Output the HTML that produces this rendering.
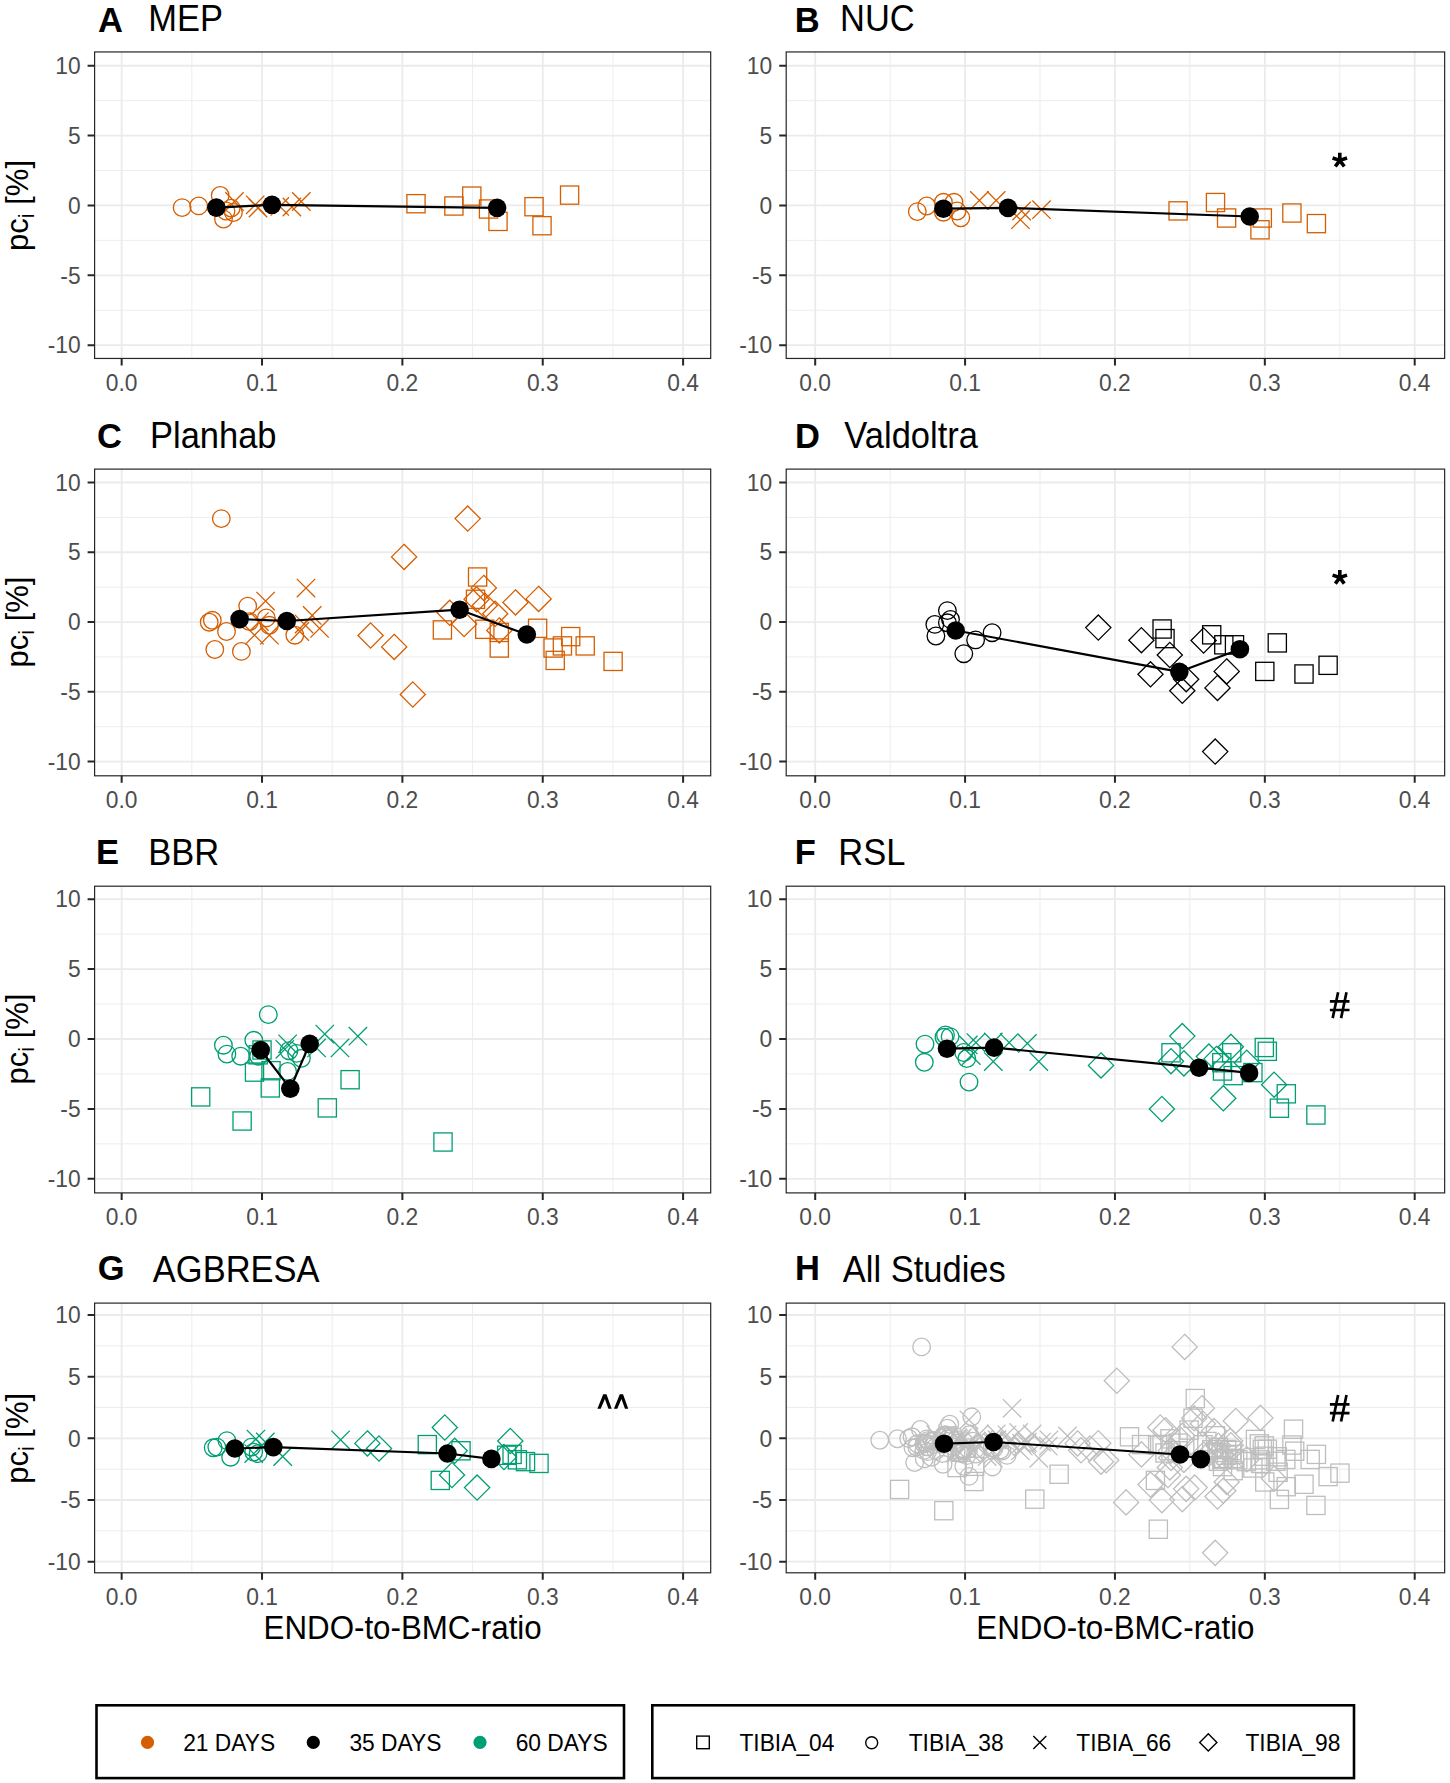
<!DOCTYPE html>
<html><head><meta charset="utf-8"><style>
html,body{margin:0;padding:0;background:#fff;}
svg{display:block;font-family:"Liberation Sans",sans-serif;}
</style></head><body>
<svg width="1450" height="1783" viewBox="0 0 1450 1783">
<rect width="1450" height="1783" fill="#fff"/>
<g><rect x="94.6" y="51.95" width="616.1" height="306.5" fill="#FFFFFF"/><line x1="191.84" y1="51.95" x2="191.84" y2="358.45" stroke="#EBEBEB" stroke-width="0.9"/><line x1="332.2" y1="51.95" x2="332.2" y2="358.45" stroke="#EBEBEB" stroke-width="0.9"/><line x1="472.56" y1="51.95" x2="472.56" y2="358.45" stroke="#EBEBEB" stroke-width="0.9"/><line x1="612.92" y1="51.95" x2="612.92" y2="358.45" stroke="#EBEBEB" stroke-width="0.9"/><line x1="94.6" y1="310.23" x2="710.7" y2="310.23" stroke="#EBEBEB" stroke-width="0.9"/><line x1="94.6" y1="240.38" x2="710.7" y2="240.38" stroke="#EBEBEB" stroke-width="0.9"/><line x1="94.6" y1="170.52" x2="710.7" y2="170.52" stroke="#EBEBEB" stroke-width="0.9"/><line x1="94.6" y1="100.67" x2="710.7" y2="100.67" stroke="#EBEBEB" stroke-width="0.9"/><line x1="121.66" y1="51.95" x2="121.66" y2="358.45" stroke="#EBEBEB" stroke-width="1.8"/><line x1="262.02" y1="51.95" x2="262.02" y2="358.45" stroke="#EBEBEB" stroke-width="1.8"/><line x1="402.38" y1="51.95" x2="402.38" y2="358.45" stroke="#EBEBEB" stroke-width="1.8"/><line x1="542.74" y1="51.95" x2="542.74" y2="358.45" stroke="#EBEBEB" stroke-width="1.8"/><line x1="683.1" y1="51.95" x2="683.1" y2="358.45" stroke="#EBEBEB" stroke-width="1.8"/><line x1="94.6" y1="345.15" x2="710.7" y2="345.15" stroke="#EBEBEB" stroke-width="1.8"/><line x1="94.6" y1="275.3" x2="710.7" y2="275.3" stroke="#EBEBEB" stroke-width="1.8"/><line x1="94.6" y1="205.45" x2="710.7" y2="205.45" stroke="#EBEBEB" stroke-width="1.8"/><line x1="94.6" y1="135.6" x2="710.7" y2="135.6" stroke="#EBEBEB" stroke-width="1.8"/><line x1="94.6" y1="65.75" x2="710.7" y2="65.75" stroke="#EBEBEB" stroke-width="1.8"/><g fill="none" stroke="#D55E00" stroke-width="1.3"><rect x="406.9" y="194.6" width="18.2" height="18.2"/><rect x="444.8" y="196.9" width="18.2" height="18.2"/><rect x="462.7" y="187" width="18.2" height="18.2"/><rect x="479.4" y="199.9" width="18.2" height="18.2"/><rect x="488.9" y="212.3" width="18.2" height="18.2"/><rect x="524.9" y="197.6" width="18.2" height="18.2"/><rect x="532.9" y="216.6" width="18.2" height="18.2"/><rect x="560.5" y="186" width="18.2" height="18.2"/><circle cx="182.1" cy="207.6" r="8.8"/><circle cx="198.7" cy="205.9" r="8.8"/><circle cx="220.2" cy="195.4" r="8.8"/><circle cx="223.5" cy="219.1" r="8.8"/><circle cx="231.2" cy="208.1" r="8.8"/><circle cx="233.4" cy="212.5" r="8.8"/><circle cx="226" cy="211" r="8.8"/><path d="M246 195.6L264.4 214M246 214L264.4 195.6"/><path d="M248.8 198.8L267.2 217.2M248.8 217.2L267.2 198.8"/><path d="M270.6 197.2L289 215.6M270.6 215.6L289 197.2"/><path d="M282.7 197.8L301.1 216.2M282.7 216.2L301.1 197.8"/><path d="M292.1 192.3L310.5 210.7M292.1 210.7L310.5 192.3"/><path d="M225.3 192.3L243.7 210.7M225.3 210.7L243.7 192.3"/></g><polyline points="216.3,207.6 272,204.8 497.1,207.8" fill="none" stroke="#000" stroke-width="2.2" stroke-linejoin="round"/><circle cx="216.3" cy="207.6" r="9.3" fill="#000"/><circle cx="272" cy="204.8" r="9.3" fill="#000"/><circle cx="497.1" cy="207.8" r="9.3" fill="#000"/><rect x="94.6" y="51.95" width="616.1" height="306.5" fill="none" stroke="#262626" stroke-width="1.2"/><path d="M121.66 358.45V365.45M262.02 358.45V365.45M402.38 358.45V365.45M542.74 358.45V365.45M683.1 358.45V365.45M94.6 345.15H87.6M94.6 275.3H87.6M94.6 205.45H87.6M94.6 135.6H87.6M94.6 65.75H87.6" stroke="#262626" stroke-width="2.0" fill="none"/><text transform="translate(121.66,390.85) scale(1,1.04)" font-size="22.8" fill="#4D4D4D" text-anchor="middle">0.0</text><text transform="translate(262.02,390.85) scale(1,1.04)" font-size="22.8" fill="#4D4D4D" text-anchor="middle">0.1</text><text transform="translate(402.38,390.85) scale(1,1.04)" font-size="22.8" fill="#4D4D4D" text-anchor="middle">0.2</text><text transform="translate(542.74,390.85) scale(1,1.04)" font-size="22.8" fill="#4D4D4D" text-anchor="middle">0.3</text><text transform="translate(683.1,390.85) scale(1,1.04)" font-size="22.8" fill="#4D4D4D" text-anchor="middle">0.4</text><text transform="translate(80.6,353.35) scale(1,1.04)" font-size="22.8" fill="#4D4D4D" text-anchor="end">-10</text><text transform="translate(80.6,283.5) scale(1,1.04)" font-size="22.8" fill="#4D4D4D" text-anchor="end">-5</text><text transform="translate(80.6,213.65) scale(1,1.04)" font-size="22.8" fill="#4D4D4D" text-anchor="end">0</text><text transform="translate(80.6,143.8) scale(1,1.04)" font-size="22.8" fill="#4D4D4D" text-anchor="end">5</text><text transform="translate(80.6,73.95) scale(1,1.04)" font-size="22.8" fill="#4D4D4D" text-anchor="end">10</text></g><text transform="translate(97.94,32) scale(1,1.03)" font-size="34.5" fill="#000" text-anchor="start" font-weight="bold">A</text><text transform="translate(148.17,31.2) scale(1,1.045)" font-size="34.5" fill="#000" text-anchor="start">MEP</text><g><rect x="786.2" y="51.95" width="658.45" height="306.5" fill="#FFFFFF"/><line x1="890.14" y1="51.95" x2="890.14" y2="358.45" stroke="#EBEBEB" stroke-width="0.9"/><line x1="1040.01" y1="51.95" x2="1040.01" y2="358.45" stroke="#EBEBEB" stroke-width="0.9"/><line x1="1189.89" y1="51.95" x2="1189.89" y2="358.45" stroke="#EBEBEB" stroke-width="0.9"/><line x1="1339.76" y1="51.95" x2="1339.76" y2="358.45" stroke="#EBEBEB" stroke-width="0.9"/><line x1="786.2" y1="310.23" x2="1444.65" y2="310.23" stroke="#EBEBEB" stroke-width="0.9"/><line x1="786.2" y1="240.38" x2="1444.65" y2="240.38" stroke="#EBEBEB" stroke-width="0.9"/><line x1="786.2" y1="170.52" x2="1444.65" y2="170.52" stroke="#EBEBEB" stroke-width="0.9"/><line x1="786.2" y1="100.67" x2="1444.65" y2="100.67" stroke="#EBEBEB" stroke-width="0.9"/><line x1="815.2" y1="51.95" x2="815.2" y2="358.45" stroke="#EBEBEB" stroke-width="1.8"/><line x1="965.08" y1="51.95" x2="965.08" y2="358.45" stroke="#EBEBEB" stroke-width="1.8"/><line x1="1114.95" y1="51.95" x2="1114.95" y2="358.45" stroke="#EBEBEB" stroke-width="1.8"/><line x1="1264.83" y1="51.95" x2="1264.83" y2="358.45" stroke="#EBEBEB" stroke-width="1.8"/><line x1="1414.7" y1="51.95" x2="1414.7" y2="358.45" stroke="#EBEBEB" stroke-width="1.8"/><line x1="786.2" y1="345.15" x2="1444.65" y2="345.15" stroke="#EBEBEB" stroke-width="1.8"/><line x1="786.2" y1="275.3" x2="1444.65" y2="275.3" stroke="#EBEBEB" stroke-width="1.8"/><line x1="786.2" y1="205.45" x2="1444.65" y2="205.45" stroke="#EBEBEB" stroke-width="1.8"/><line x1="786.2" y1="135.6" x2="1444.65" y2="135.6" stroke="#EBEBEB" stroke-width="1.8"/><line x1="786.2" y1="65.75" x2="1444.65" y2="65.75" stroke="#EBEBEB" stroke-width="1.8"/><g fill="none" stroke="#D55E00" stroke-width="1.3"><rect x="1169" y="201.8" width="18.2" height="18.2"/><rect x="1206.4" y="193.4" width="18.2" height="18.2"/><rect x="1217.5" y="208.9" width="18.2" height="18.2"/><rect x="1253.2" y="208.9" width="18.2" height="18.2"/><rect x="1250.9" y="220.7" width="18.2" height="18.2"/><rect x="1282.8" y="203.9" width="18.2" height="18.2"/><rect x="1307.3" y="214.5" width="18.2" height="18.2"/><circle cx="917.3" cy="211.6" r="8.8"/><circle cx="926.7" cy="206" r="8.8"/><circle cx="943.4" cy="202.3" r="8.8"/><circle cx="954" cy="202.3" r="8.8"/><circle cx="957.1" cy="211" r="8.8"/><circle cx="943.4" cy="212.2" r="8.8"/><circle cx="960.8" cy="217.8" r="8.8"/><path d="M970.2 191.2L988.6 209.6M970.2 209.6L988.6 191.2"/><path d="M987 191.2L1005.4 209.6M987 209.6L1005.4 191.2"/><path d="M1011.2 210.5L1029.6 228.9M1011.2 228.9L1029.6 210.5"/><path d="M1012.4 201.8L1030.8 220.2M1012.4 220.2L1030.8 201.8"/><path d="M1032.3 200.5L1050.7 218.9M1032.3 218.9L1050.7 200.5"/></g><polyline points="943.4,208.7 1008,207.9 1249.7,216.5" fill="none" stroke="#000" stroke-width="2.2" stroke-linejoin="round"/><circle cx="943.4" cy="208.7" r="9.3" fill="#000"/><circle cx="1008" cy="207.9" r="9.3" fill="#000"/><circle cx="1249.7" cy="216.5" r="9.3" fill="#000"/><path d="M1339.8 160.35L1339.8 152.75M1339.8 160.35L1347.03 158M1339.8 160.35L1344.27 166.5M1339.8 160.35L1335.33 166.5M1339.8 160.35L1332.57 158" stroke="#000" stroke-width="3.6" fill="none"/><rect x="786.2" y="51.95" width="658.45" height="306.5" fill="none" stroke="#262626" stroke-width="1.2"/><path d="M815.2 358.45V365.45M965.08 358.45V365.45M1114.95 358.45V365.45M1264.83 358.45V365.45M1414.7 358.45V365.45M786.2 345.15H779.2M786.2 275.3H779.2M786.2 205.45H779.2M786.2 135.6H779.2M786.2 65.75H779.2" stroke="#262626" stroke-width="2.0" fill="none"/><text transform="translate(815.2,390.85) scale(1,1.04)" font-size="22.8" fill="#4D4D4D" text-anchor="middle">0.0</text><text transform="translate(965.08,390.85) scale(1,1.04)" font-size="22.8" fill="#4D4D4D" text-anchor="middle">0.1</text><text transform="translate(1114.95,390.85) scale(1,1.04)" font-size="22.8" fill="#4D4D4D" text-anchor="middle">0.2</text><text transform="translate(1264.83,390.85) scale(1,1.04)" font-size="22.8" fill="#4D4D4D" text-anchor="middle">0.3</text><text transform="translate(1414.7,390.85) scale(1,1.04)" font-size="22.8" fill="#4D4D4D" text-anchor="middle">0.4</text><text transform="translate(772.2,353.35) scale(1,1.04)" font-size="22.8" fill="#4D4D4D" text-anchor="end">-10</text><text transform="translate(772.2,283.5) scale(1,1.04)" font-size="22.8" fill="#4D4D4D" text-anchor="end">-5</text><text transform="translate(772.2,213.65) scale(1,1.04)" font-size="22.8" fill="#4D4D4D" text-anchor="end">0</text><text transform="translate(772.2,143.8) scale(1,1.04)" font-size="22.8" fill="#4D4D4D" text-anchor="end">5</text><text transform="translate(772.2,73.95) scale(1,1.04)" font-size="22.8" fill="#4D4D4D" text-anchor="end">10</text></g><text transform="translate(794.79,32) scale(1,1.03)" font-size="34.5" fill="#000" text-anchor="start" font-weight="bold">B</text><text transform="translate(840.07,31.2) scale(1,1.045)" font-size="34.5" fill="#000" text-anchor="start">NUC</text><g><rect x="94.6" y="469.1" width="616.1" height="306.7" fill="#FFFFFF"/><line x1="191.84" y1="469.1" x2="191.84" y2="775.8" stroke="#EBEBEB" stroke-width="0.9"/><line x1="332.2" y1="469.1" x2="332.2" y2="775.8" stroke="#EBEBEB" stroke-width="0.9"/><line x1="472.56" y1="469.1" x2="472.56" y2="775.8" stroke="#EBEBEB" stroke-width="0.9"/><line x1="612.92" y1="469.1" x2="612.92" y2="775.8" stroke="#EBEBEB" stroke-width="0.9"/><line x1="94.6" y1="726.71" x2="710.7" y2="726.71" stroke="#EBEBEB" stroke-width="0.9"/><line x1="94.6" y1="656.94" x2="710.7" y2="656.94" stroke="#EBEBEB" stroke-width="0.9"/><line x1="94.6" y1="587.16" x2="710.7" y2="587.16" stroke="#EBEBEB" stroke-width="0.9"/><line x1="94.6" y1="517.39" x2="710.7" y2="517.39" stroke="#EBEBEB" stroke-width="0.9"/><line x1="121.66" y1="469.1" x2="121.66" y2="775.8" stroke="#EBEBEB" stroke-width="1.8"/><line x1="262.02" y1="469.1" x2="262.02" y2="775.8" stroke="#EBEBEB" stroke-width="1.8"/><line x1="402.38" y1="469.1" x2="402.38" y2="775.8" stroke="#EBEBEB" stroke-width="1.8"/><line x1="542.74" y1="469.1" x2="542.74" y2="775.8" stroke="#EBEBEB" stroke-width="1.8"/><line x1="683.1" y1="469.1" x2="683.1" y2="775.8" stroke="#EBEBEB" stroke-width="1.8"/><line x1="94.6" y1="761.6" x2="710.7" y2="761.6" stroke="#EBEBEB" stroke-width="1.8"/><line x1="94.6" y1="691.82" x2="710.7" y2="691.82" stroke="#EBEBEB" stroke-width="1.8"/><line x1="94.6" y1="622.05" x2="710.7" y2="622.05" stroke="#EBEBEB" stroke-width="1.8"/><line x1="94.6" y1="552.27" x2="710.7" y2="552.27" stroke="#EBEBEB" stroke-width="1.8"/><line x1="94.6" y1="482.5" x2="710.7" y2="482.5" stroke="#EBEBEB" stroke-width="1.8"/><g fill="none" stroke="#D55E00" stroke-width="1.3"><rect x="468.5" y="567.9" width="18.2" height="18.2"/><rect x="466.4" y="590.2" width="18.2" height="18.2"/><rect x="433.3" y="620.8" width="18.2" height="18.2"/><rect x="475.7" y="620.2" width="18.2" height="18.2"/><rect x="490.2" y="623.3" width="18.2" height="18.2"/><rect x="490.2" y="638.9" width="18.2" height="18.2"/><rect x="528.5" y="619.2" width="18.2" height="18.2"/><rect x="544" y="638.9" width="18.2" height="18.2"/><rect x="553.3" y="636.8" width="18.2" height="18.2"/><rect x="561.6" y="627.5" width="18.2" height="18.2"/><rect x="546.1" y="651.3" width="18.2" height="18.2"/><rect x="576.1" y="636.8" width="18.2" height="18.2"/><rect x="604" y="652.3" width="18.2" height="18.2"/><circle cx="221.3" cy="518.6" r="8.8"/><circle cx="209.2" cy="622.2" r="8.8"/><circle cx="212.3" cy="620.3" r="8.8"/><circle cx="226.5" cy="631.5" r="8.8"/><circle cx="214.8" cy="649.5" r="8.8"/><circle cx="241.4" cy="651.4" r="8.8"/><circle cx="247.7" cy="606.1" r="8.8"/><circle cx="249.5" cy="621.6" r="8.8"/><circle cx="266.3" cy="617.9" r="8.8"/><circle cx="269.4" cy="625.3" r="8.8"/><circle cx="294.8" cy="635.2" r="8.8"/><path d="M467.7 506L480.3 518.6L467.7 531.2L455.1 518.6Z"/><path d="M404.1 544.3L416.7 556.9L404.1 569.5L391.5 556.9Z"/><path d="M370.6 622.9L383.2 635.5L370.6 648.1L358 635.5Z"/><path d="M394.2 634.3L406.8 646.9L394.2 659.5L381.6 646.9Z"/><path d="M412.8 681.9L425.4 694.5L412.8 707.1L400.2 694.5Z"/><path d="M483.8 575.3L496.4 587.9L483.8 600.5L471.2 587.9Z"/><path d="M476.6 586.7L489.2 599.3L476.6 611.9L464 599.3Z"/><path d="M484.8 592.9L497.4 605.5L484.8 618.1L472.2 605.5Z"/><path d="M495.2 601.2L507.8 613.8L495.2 626.4L482.6 613.8Z"/><path d="M515.5 589.8L528.1 602.4L515.5 615L502.9 602.4Z"/><path d="M538.6 586.3L551.2 598.9L538.6 611.5L526 598.9Z"/><path d="M449.7 600.2L462.3 612.8L449.7 625.4L437.1 612.8Z"/><path d="M464.1 611.5L476.7 624.1L464.1 636.7L451.5 624.1Z"/><path d="M499.3 617.8L511.9 630.4L499.3 643L486.7 630.4Z"/><path d="M256.4 591.9L274.8 610.3M256.4 610.3L274.8 591.9"/><path d="M296.8 578.9L315.2 597.3M296.8 597.3L315.2 578.9"/><path d="M303 606.2L321.4 624.6M303 624.6L321.4 606.2"/><path d="M310.4 619.2L328.8 637.6M310.4 637.6L328.8 619.2"/><path d="M245.3 626L263.7 644.4M245.3 644.4L263.7 626"/><path d="M260.2 626L278.6 644.4M260.2 644.4L278.6 626"/><path d="M290.6 622.3L309 640.7M290.6 640.7L309 622.3"/><path d="M294.9 614.9L313.3 633.3M294.9 633.3L313.3 614.9"/><path d="M250.2 612.4L268.6 630.8M250.2 630.8L268.6 612.4"/></g><polyline points="239.6,619.1 286.8,621 459.6,609.7 526.8,634.5" fill="none" stroke="#000" stroke-width="2.2" stroke-linejoin="round"/><circle cx="239.6" cy="619.1" r="9.3" fill="#000"/><circle cx="286.8" cy="621" r="9.3" fill="#000"/><circle cx="459.6" cy="609.7" r="9.3" fill="#000"/><circle cx="526.8" cy="634.5" r="9.3" fill="#000"/><rect x="94.6" y="469.1" width="616.1" height="306.7" fill="none" stroke="#262626" stroke-width="1.2"/><path d="M121.66 775.8V782.8M262.02 775.8V782.8M402.38 775.8V782.8M542.74 775.8V782.8M683.1 775.8V782.8M94.6 761.6H87.6M94.6 691.82H87.6M94.6 622.05H87.6M94.6 552.27H87.6M94.6 482.5H87.6" stroke="#262626" stroke-width="2.0" fill="none"/><text transform="translate(121.66,808.2) scale(1,1.04)" font-size="22.8" fill="#4D4D4D" text-anchor="middle">0.0</text><text transform="translate(262.02,808.2) scale(1,1.04)" font-size="22.8" fill="#4D4D4D" text-anchor="middle">0.1</text><text transform="translate(402.38,808.2) scale(1,1.04)" font-size="22.8" fill="#4D4D4D" text-anchor="middle">0.2</text><text transform="translate(542.74,808.2) scale(1,1.04)" font-size="22.8" fill="#4D4D4D" text-anchor="middle">0.3</text><text transform="translate(683.1,808.2) scale(1,1.04)" font-size="22.8" fill="#4D4D4D" text-anchor="middle">0.4</text><text transform="translate(80.6,769.8) scale(1,1.04)" font-size="22.8" fill="#4D4D4D" text-anchor="end">-10</text><text transform="translate(80.6,700.02) scale(1,1.04)" font-size="22.8" fill="#4D4D4D" text-anchor="end">-5</text><text transform="translate(80.6,630.25) scale(1,1.04)" font-size="22.8" fill="#4D4D4D" text-anchor="end">0</text><text transform="translate(80.6,560.48) scale(1,1.04)" font-size="22.8" fill="#4D4D4D" text-anchor="end">5</text><text transform="translate(80.6,490.7) scale(1,1.04)" font-size="22.8" fill="#4D4D4D" text-anchor="end">10</text></g><text transform="translate(96.88,448.4) scale(1,1.03)" font-size="34.5" fill="#000" text-anchor="start" font-weight="bold">C</text><text transform="translate(149.97,448.1) scale(1,1.045)" font-size="34.5" fill="#000" text-anchor="start">Planhab</text><g><rect x="786.2" y="469.1" width="658.45" height="306.7" fill="#FFFFFF"/><line x1="890.14" y1="469.1" x2="890.14" y2="775.8" stroke="#EBEBEB" stroke-width="0.9"/><line x1="1040.01" y1="469.1" x2="1040.01" y2="775.8" stroke="#EBEBEB" stroke-width="0.9"/><line x1="1189.89" y1="469.1" x2="1189.89" y2="775.8" stroke="#EBEBEB" stroke-width="0.9"/><line x1="1339.76" y1="469.1" x2="1339.76" y2="775.8" stroke="#EBEBEB" stroke-width="0.9"/><line x1="786.2" y1="726.71" x2="1444.65" y2="726.71" stroke="#EBEBEB" stroke-width="0.9"/><line x1="786.2" y1="656.94" x2="1444.65" y2="656.94" stroke="#EBEBEB" stroke-width="0.9"/><line x1="786.2" y1="587.16" x2="1444.65" y2="587.16" stroke="#EBEBEB" stroke-width="0.9"/><line x1="786.2" y1="517.39" x2="1444.65" y2="517.39" stroke="#EBEBEB" stroke-width="0.9"/><line x1="815.2" y1="469.1" x2="815.2" y2="775.8" stroke="#EBEBEB" stroke-width="1.8"/><line x1="965.08" y1="469.1" x2="965.08" y2="775.8" stroke="#EBEBEB" stroke-width="1.8"/><line x1="1114.95" y1="469.1" x2="1114.95" y2="775.8" stroke="#EBEBEB" stroke-width="1.8"/><line x1="1264.83" y1="469.1" x2="1264.83" y2="775.8" stroke="#EBEBEB" stroke-width="1.8"/><line x1="1414.7" y1="469.1" x2="1414.7" y2="775.8" stroke="#EBEBEB" stroke-width="1.8"/><line x1="786.2" y1="761.6" x2="1444.65" y2="761.6" stroke="#EBEBEB" stroke-width="1.8"/><line x1="786.2" y1="691.82" x2="1444.65" y2="691.82" stroke="#EBEBEB" stroke-width="1.8"/><line x1="786.2" y1="622.05" x2="1444.65" y2="622.05" stroke="#EBEBEB" stroke-width="1.8"/><line x1="786.2" y1="552.27" x2="1444.65" y2="552.27" stroke="#EBEBEB" stroke-width="1.8"/><line x1="786.2" y1="482.5" x2="1444.65" y2="482.5" stroke="#EBEBEB" stroke-width="1.8"/><g fill="none" stroke="#000000" stroke-width="1.3"><rect x="1153" y="619.9" width="18.2" height="18.2"/><rect x="1155.9" y="629.5" width="18.2" height="18.2"/><rect x="1202.6" y="625.7" width="18.2" height="18.2"/><rect x="1214.7" y="635.7" width="18.2" height="18.2"/><rect x="1225.4" y="635.7" width="18.2" height="18.2"/><rect x="1268.2" y="633.8" width="18.2" height="18.2"/><rect x="1255.7" y="662.3" width="18.2" height="18.2"/><rect x="1294.9" y="664.9" width="18.2" height="18.2"/><rect x="1319" y="656.2" width="18.2" height="18.2"/><circle cx="947.4" cy="610.6" r="8.8"/><circle cx="950.5" cy="619.4" r="8.8"/><circle cx="934.8" cy="624.4" r="8.8"/><circle cx="935.9" cy="636" r="8.8"/><circle cx="947.4" cy="622.8" r="8.8"/><circle cx="963.8" cy="653.7" r="8.8"/><circle cx="975.6" cy="639.9" r="8.8"/><circle cx="992.1" cy="632.7" r="8.8"/><path d="M1098.3 615L1110.9 627.6L1098.3 640.2L1085.7 627.6Z"/><path d="M1141.4 627.6L1154 640.2L1141.4 652.8L1128.8 640.2Z"/><path d="M1169.8 642.4L1182.4 655L1169.8 667.6L1157.2 655Z"/><path d="M1150.5 661.7L1163.1 674.3L1150.5 686.9L1137.9 674.3Z"/><path d="M1182.3 678.2L1194.9 690.8L1182.3 703.4L1169.7 690.8Z"/><path d="M1186.2 666.6L1198.8 679.2L1186.2 691.8L1173.6 679.2Z"/><path d="M1203.6 627.9L1216.2 640.5L1203.6 653.1L1191 640.5Z"/><path d="M1226.7 658.8L1239.3 671.4L1226.7 684L1214.1 671.4Z"/><path d="M1217.5 675.3L1230.1 687.9L1217.5 700.5L1204.9 687.9Z"/><path d="M1215.2 739L1227.8 751.6L1215.2 764.2L1202.6 751.6Z"/></g><polyline points="955.7,630.5 1179.4,671.8 1239.9,649.2" fill="none" stroke="#000" stroke-width="2.2" stroke-linejoin="round"/><circle cx="955.7" cy="630.5" r="9.3" fill="#000"/><circle cx="1179.4" cy="671.8" r="9.3" fill="#000"/><circle cx="1239.9" cy="649.2" r="9.3" fill="#000"/><path d="M1339.8 577.5L1339.8 569.9M1339.8 577.5L1347.03 575.15M1339.8 577.5L1344.27 583.65M1339.8 577.5L1335.33 583.65M1339.8 577.5L1332.57 575.15" stroke="#000" stroke-width="3.6" fill="none"/><rect x="786.2" y="469.1" width="658.45" height="306.7" fill="none" stroke="#262626" stroke-width="1.2"/><path d="M815.2 775.8V782.8M965.08 775.8V782.8M1114.95 775.8V782.8M1264.83 775.8V782.8M1414.7 775.8V782.8M786.2 761.6H779.2M786.2 691.82H779.2M786.2 622.05H779.2M786.2 552.27H779.2M786.2 482.5H779.2" stroke="#262626" stroke-width="2.0" fill="none"/><text transform="translate(815.2,808.2) scale(1,1.04)" font-size="22.8" fill="#4D4D4D" text-anchor="middle">0.0</text><text transform="translate(965.08,808.2) scale(1,1.04)" font-size="22.8" fill="#4D4D4D" text-anchor="middle">0.1</text><text transform="translate(1114.95,808.2) scale(1,1.04)" font-size="22.8" fill="#4D4D4D" text-anchor="middle">0.2</text><text transform="translate(1264.83,808.2) scale(1,1.04)" font-size="22.8" fill="#4D4D4D" text-anchor="middle">0.3</text><text transform="translate(1414.7,808.2) scale(1,1.04)" font-size="22.8" fill="#4D4D4D" text-anchor="middle">0.4</text><text transform="translate(772.2,769.8) scale(1,1.04)" font-size="22.8" fill="#4D4D4D" text-anchor="end">-10</text><text transform="translate(772.2,700.02) scale(1,1.04)" font-size="22.8" fill="#4D4D4D" text-anchor="end">-5</text><text transform="translate(772.2,630.25) scale(1,1.04)" font-size="22.8" fill="#4D4D4D" text-anchor="end">0</text><text transform="translate(772.2,560.48) scale(1,1.04)" font-size="22.8" fill="#4D4D4D" text-anchor="end">5</text><text transform="translate(772.2,490.7) scale(1,1.04)" font-size="22.8" fill="#4D4D4D" text-anchor="end">10</text></g><text transform="translate(795.09,448.4) scale(1,1.03)" font-size="34.5" fill="#000" text-anchor="start" font-weight="bold">D</text><text transform="translate(844.35,448.1) scale(1,1.045)" font-size="34.5" fill="#000" text-anchor="start">Valdoltra</text><g><rect x="94.6" y="886.2" width="616.1" height="306.7" fill="#FFFFFF"/><line x1="191.84" y1="886.2" x2="191.84" y2="1192.9" stroke="#EBEBEB" stroke-width="0.9"/><line x1="332.2" y1="886.2" x2="332.2" y2="1192.9" stroke="#EBEBEB" stroke-width="0.9"/><line x1="472.56" y1="886.2" x2="472.56" y2="1192.9" stroke="#EBEBEB" stroke-width="0.9"/><line x1="612.92" y1="886.2" x2="612.92" y2="1192.9" stroke="#EBEBEB" stroke-width="0.9"/><line x1="94.6" y1="1143.85" x2="710.7" y2="1143.85" stroke="#EBEBEB" stroke-width="0.9"/><line x1="94.6" y1="1073.95" x2="710.7" y2="1073.95" stroke="#EBEBEB" stroke-width="0.9"/><line x1="94.6" y1="1004.05" x2="710.7" y2="1004.05" stroke="#EBEBEB" stroke-width="0.9"/><line x1="94.6" y1="934.15" x2="710.7" y2="934.15" stroke="#EBEBEB" stroke-width="0.9"/><line x1="121.66" y1="886.2" x2="121.66" y2="1192.9" stroke="#EBEBEB" stroke-width="1.8"/><line x1="262.02" y1="886.2" x2="262.02" y2="1192.9" stroke="#EBEBEB" stroke-width="1.8"/><line x1="402.38" y1="886.2" x2="402.38" y2="1192.9" stroke="#EBEBEB" stroke-width="1.8"/><line x1="542.74" y1="886.2" x2="542.74" y2="1192.9" stroke="#EBEBEB" stroke-width="1.8"/><line x1="683.1" y1="886.2" x2="683.1" y2="1192.9" stroke="#EBEBEB" stroke-width="1.8"/><line x1="94.6" y1="1178.8" x2="710.7" y2="1178.8" stroke="#EBEBEB" stroke-width="1.8"/><line x1="94.6" y1="1108.9" x2="710.7" y2="1108.9" stroke="#EBEBEB" stroke-width="1.8"/><line x1="94.6" y1="1039" x2="710.7" y2="1039" stroke="#EBEBEB" stroke-width="1.8"/><line x1="94.6" y1="969.1" x2="710.7" y2="969.1" stroke="#EBEBEB" stroke-width="1.8"/><line x1="94.6" y1="899.2" x2="710.7" y2="899.2" stroke="#EBEBEB" stroke-width="1.8"/><g fill="none" stroke="#009E73" stroke-width="1.3"><rect x="191.6" y="1087.8" width="18.2" height="18.2"/><rect x="233" y="1111.9" width="18.2" height="18.2"/><rect x="245.4" y="1063" width="18.2" height="18.2"/><rect x="249.1" y="1045.7" width="18.2" height="18.2"/><rect x="261.2" y="1078.8" width="18.2" height="18.2"/><rect x="318.2" y="1098.8" width="18.2" height="18.2"/><rect x="341" y="1070.6" width="18.2" height="18.2"/><rect x="261.9" y="1061.6" width="18.2" height="18.2"/><rect x="252.9" y="1040.9" width="18.2" height="18.2"/><rect x="433.9" y="1132.9" width="18.2" height="18.2"/><circle cx="268.3" cy="1014.6" r="8.8"/><circle cx="223.4" cy="1045.2" r="8.8"/><circle cx="226.9" cy="1054.1" r="8.8"/><circle cx="240.7" cy="1056.2" r="8.8"/><circle cx="253.8" cy="1040.3" r="8.8"/><circle cx="258.6" cy="1056.2" r="8.8"/><circle cx="287.6" cy="1071.4" r="8.8"/><circle cx="296.6" cy="1053.4" r="8.8"/><circle cx="301.4" cy="1058.3" r="8.8"/><circle cx="289" cy="1050.7" r="8.8"/><path d="M278.4 1034.6L296.8 1053M278.4 1053L296.8 1034.6"/><path d="M275.6 1040.1L294 1058.5M275.6 1058.5L294 1040.1"/><path d="M315.6 1024.9L334 1043.3M315.6 1043.3L334 1024.9"/><path d="M330.8 1038.7L349.2 1057.1M330.8 1057.1L349.2 1038.7"/><path d="M348.7 1027L367.1 1045.4M348.7 1045.4L367.1 1027"/><path d="M307.4 1038.7L325.8 1057.1M307.4 1057.1L325.8 1038.7"/></g><polyline points="260.7,1050 290.3,1088.6 309.7,1043.8" fill="none" stroke="#000" stroke-width="2.2" stroke-linejoin="round"/><circle cx="260.7" cy="1050" r="9.3" fill="#000"/><circle cx="290.3" cy="1088.6" r="9.3" fill="#000"/><circle cx="309.7" cy="1043.8" r="9.3" fill="#000"/><rect x="94.6" y="886.2" width="616.1" height="306.7" fill="none" stroke="#262626" stroke-width="1.2"/><path d="M121.66 1192.9V1199.9M262.02 1192.9V1199.9M402.38 1192.9V1199.9M542.74 1192.9V1199.9M683.1 1192.9V1199.9M94.6 1178.8H87.6M94.6 1108.9H87.6M94.6 1039H87.6M94.6 969.1H87.6M94.6 899.2H87.6" stroke="#262626" stroke-width="2.0" fill="none"/><text transform="translate(121.66,1225.3) scale(1,1.04)" font-size="22.8" fill="#4D4D4D" text-anchor="middle">0.0</text><text transform="translate(262.02,1225.3) scale(1,1.04)" font-size="22.8" fill="#4D4D4D" text-anchor="middle">0.1</text><text transform="translate(402.38,1225.3) scale(1,1.04)" font-size="22.8" fill="#4D4D4D" text-anchor="middle">0.2</text><text transform="translate(542.74,1225.3) scale(1,1.04)" font-size="22.8" fill="#4D4D4D" text-anchor="middle">0.3</text><text transform="translate(683.1,1225.3) scale(1,1.04)" font-size="22.8" fill="#4D4D4D" text-anchor="middle">0.4</text><text transform="translate(80.6,1187) scale(1,1.04)" font-size="22.8" fill="#4D4D4D" text-anchor="end">-10</text><text transform="translate(80.6,1117.1) scale(1,1.04)" font-size="22.8" fill="#4D4D4D" text-anchor="end">-5</text><text transform="translate(80.6,1047.2) scale(1,1.04)" font-size="22.8" fill="#4D4D4D" text-anchor="end">0</text><text transform="translate(80.6,977.3) scale(1,1.04)" font-size="22.8" fill="#4D4D4D" text-anchor="end">5</text><text transform="translate(80.6,907.4) scale(1,1.04)" font-size="22.8" fill="#4D4D4D" text-anchor="end">10</text></g><text transform="translate(95.99,864) scale(1,1.03)" font-size="34.5" fill="#000" text-anchor="start" font-weight="bold">E</text><text transform="translate(148.17,864.6) scale(1,1.045)" font-size="34.5" fill="#000" text-anchor="start">BBR</text><g><rect x="786.2" y="886.2" width="658.45" height="306.7" fill="#FFFFFF"/><line x1="890.14" y1="886.2" x2="890.14" y2="1192.9" stroke="#EBEBEB" stroke-width="0.9"/><line x1="1040.01" y1="886.2" x2="1040.01" y2="1192.9" stroke="#EBEBEB" stroke-width="0.9"/><line x1="1189.89" y1="886.2" x2="1189.89" y2="1192.9" stroke="#EBEBEB" stroke-width="0.9"/><line x1="1339.76" y1="886.2" x2="1339.76" y2="1192.9" stroke="#EBEBEB" stroke-width="0.9"/><line x1="786.2" y1="1143.85" x2="1444.65" y2="1143.85" stroke="#EBEBEB" stroke-width="0.9"/><line x1="786.2" y1="1073.95" x2="1444.65" y2="1073.95" stroke="#EBEBEB" stroke-width="0.9"/><line x1="786.2" y1="1004.05" x2="1444.65" y2="1004.05" stroke="#EBEBEB" stroke-width="0.9"/><line x1="786.2" y1="934.15" x2="1444.65" y2="934.15" stroke="#EBEBEB" stroke-width="0.9"/><line x1="815.2" y1="886.2" x2="815.2" y2="1192.9" stroke="#EBEBEB" stroke-width="1.8"/><line x1="965.08" y1="886.2" x2="965.08" y2="1192.9" stroke="#EBEBEB" stroke-width="1.8"/><line x1="1114.95" y1="886.2" x2="1114.95" y2="1192.9" stroke="#EBEBEB" stroke-width="1.8"/><line x1="1264.83" y1="886.2" x2="1264.83" y2="1192.9" stroke="#EBEBEB" stroke-width="1.8"/><line x1="1414.7" y1="886.2" x2="1414.7" y2="1192.9" stroke="#EBEBEB" stroke-width="1.8"/><line x1="786.2" y1="1178.8" x2="1444.65" y2="1178.8" stroke="#EBEBEB" stroke-width="1.8"/><line x1="786.2" y1="1108.9" x2="1444.65" y2="1108.9" stroke="#EBEBEB" stroke-width="1.8"/><line x1="786.2" y1="1039" x2="1444.65" y2="1039" stroke="#EBEBEB" stroke-width="1.8"/><line x1="786.2" y1="969.1" x2="1444.65" y2="969.1" stroke="#EBEBEB" stroke-width="1.8"/><line x1="786.2" y1="899.2" x2="1444.65" y2="899.2" stroke="#EBEBEB" stroke-width="1.8"/><g fill="none" stroke="#009E73" stroke-width="1.3"><rect x="1161.9" y="1043.7" width="18.2" height="18.2"/><rect x="1212.7" y="1053.6" width="18.2" height="18.2"/><rect x="1213.4" y="1061.9" width="18.2" height="18.2"/><rect x="1224.1" y="1066.5" width="18.2" height="18.2"/><rect x="1222.6" y="1043.7" width="18.2" height="18.2"/><rect x="1255.2" y="1038.4" width="18.2" height="18.2"/><rect x="1258.2" y="1042.2" width="18.2" height="18.2"/><rect x="1243.8" y="1063.5" width="18.2" height="18.2"/><rect x="1277.2" y="1084.7" width="18.2" height="18.2"/><rect x="1270.3" y="1099.1" width="18.2" height="18.2"/><rect x="1306.8" y="1105.9" width="18.2" height="18.2"/><circle cx="925" cy="1044.1" r="8.8"/><circle cx="924.3" cy="1062.3" r="8.8"/><circle cx="945.5" cy="1035" r="8.8"/><circle cx="944" cy="1037.3" r="8.8"/><circle cx="950.1" cy="1036.6" r="8.8"/><circle cx="966.8" cy="1058.6" r="8.8"/><circle cx="969" cy="1082.1" r="8.8"/><circle cx="963.7" cy="1052.5" r="8.8"/><path d="M1101 1052.8L1113.6 1065.4L1101 1078L1088.4 1065.4Z"/><path d="M1182.3 1023.5L1194.9 1036.1L1182.3 1048.7L1169.7 1036.1Z"/><path d="M1171 1048.6L1183.6 1061.2L1171 1073.8L1158.4 1061.2Z"/><path d="M1183.9 1050.8L1196.5 1063.4L1183.9 1076L1171.3 1063.4Z"/><path d="M1208.9 1044L1221.5 1056.6L1208.9 1069.2L1196.3 1056.6Z"/><path d="M1230.9 1034.2L1243.5 1046.8L1230.9 1059.4L1218.3 1046.8Z"/><path d="M1246.8 1050.1L1259.4 1062.7L1246.8 1075.3L1234.2 1062.7Z"/><path d="M1223.3 1085.7L1235.9 1098.3L1223.3 1110.9L1210.7 1098.3Z"/><path d="M1161.9 1096.4L1174.5 1109L1161.9 1121.6L1149.3 1109Z"/><path d="M1274.1 1072.1L1286.7 1084.7L1274.1 1097.3L1261.5 1084.7Z"/><path d="M1216.5 1046.3L1229.1 1058.9L1216.5 1071.5L1203.9 1058.9Z"/><path d="M959.1 1035.7L977.5 1054.1M959.1 1054.1L977.5 1035.7"/><path d="M966.7 1033.4L985.1 1051.8M966.7 1051.8L985.1 1033.4"/><path d="M984.1 1032.7L1002.5 1051.1M984.1 1051.1L1002.5 1032.7"/><path d="M1000 1033.4L1018.4 1051.8M1000 1051.8L1018.4 1033.4"/><path d="M1018.2 1034.2L1036.6 1052.6M1018.2 1052.6L1036.6 1034.2"/><path d="M984.1 1052.4L1002.5 1070.8M984.1 1070.8L1002.5 1052.4"/><path d="M1029.6 1052.4L1048 1070.8M1029.6 1070.8L1048 1052.4"/><path d="M962.1 1046.3L980.5 1064.7M962.1 1064.7L980.5 1046.3"/></g><polyline points="947,1048.7 994.1,1047.6 1199,1067.7 1249.1,1072.9" fill="none" stroke="#000" stroke-width="2.2" stroke-linejoin="round"/><circle cx="947" cy="1048.7" r="9.3" fill="#000"/><circle cx="994.1" cy="1047.6" r="9.3" fill="#000"/><circle cx="1199" cy="1067.7" r="9.3" fill="#000"/><circle cx="1249.1" cy="1072.9" r="9.3" fill="#000"/><path d="M1329.9 1001.3H1349.5M1329.9 1010H1349.5M1338.1 992.3L1332.7 1018.1M1346.5 992.3L1341.1 1018.1" stroke="#000" stroke-width="2.7" fill="none"/><rect x="786.2" y="886.2" width="658.45" height="306.7" fill="none" stroke="#262626" stroke-width="1.2"/><path d="M815.2 1192.9V1199.9M965.08 1192.9V1199.9M1114.95 1192.9V1199.9M1264.83 1192.9V1199.9M1414.7 1192.9V1199.9M786.2 1178.8H779.2M786.2 1108.9H779.2M786.2 1039H779.2M786.2 969.1H779.2M786.2 899.2H779.2" stroke="#262626" stroke-width="2.0" fill="none"/><text transform="translate(815.2,1225.3) scale(1,1.04)" font-size="22.8" fill="#4D4D4D" text-anchor="middle">0.0</text><text transform="translate(965.08,1225.3) scale(1,1.04)" font-size="22.8" fill="#4D4D4D" text-anchor="middle">0.1</text><text transform="translate(1114.95,1225.3) scale(1,1.04)" font-size="22.8" fill="#4D4D4D" text-anchor="middle">0.2</text><text transform="translate(1264.83,1225.3) scale(1,1.04)" font-size="22.8" fill="#4D4D4D" text-anchor="middle">0.3</text><text transform="translate(1414.7,1225.3) scale(1,1.04)" font-size="22.8" fill="#4D4D4D" text-anchor="middle">0.4</text><text transform="translate(772.2,1187) scale(1,1.04)" font-size="22.8" fill="#4D4D4D" text-anchor="end">-10</text><text transform="translate(772.2,1117.1) scale(1,1.04)" font-size="22.8" fill="#4D4D4D" text-anchor="end">-5</text><text transform="translate(772.2,1047.2) scale(1,1.04)" font-size="22.8" fill="#4D4D4D" text-anchor="end">0</text><text transform="translate(772.2,977.3) scale(1,1.04)" font-size="22.8" fill="#4D4D4D" text-anchor="end">5</text><text transform="translate(772.2,907.4) scale(1,1.04)" font-size="22.8" fill="#4D4D4D" text-anchor="end">10</text></g><text transform="translate(794.79,864) scale(1,1.03)" font-size="34.5" fill="#000" text-anchor="start" font-weight="bold">F</text><text transform="translate(838.37,864.6) scale(1,1.045)" font-size="34.5" fill="#000" text-anchor="start">RSL</text><g><rect x="94.6" y="1303.1" width="616.1" height="269.7" fill="#FFFFFF"/><line x1="191.84" y1="1303.1" x2="191.84" y2="1572.8" stroke="#EBEBEB" stroke-width="0.9"/><line x1="332.2" y1="1303.1" x2="332.2" y2="1572.8" stroke="#EBEBEB" stroke-width="0.9"/><line x1="472.56" y1="1303.1" x2="472.56" y2="1572.8" stroke="#EBEBEB" stroke-width="0.9"/><line x1="612.92" y1="1303.1" x2="612.92" y2="1572.8" stroke="#EBEBEB" stroke-width="0.9"/><line x1="94.6" y1="1530.86" x2="710.7" y2="1530.86" stroke="#EBEBEB" stroke-width="0.9"/><line x1="94.6" y1="1469.19" x2="710.7" y2="1469.19" stroke="#EBEBEB" stroke-width="0.9"/><line x1="94.6" y1="1407.51" x2="710.7" y2="1407.51" stroke="#EBEBEB" stroke-width="0.9"/><line x1="94.6" y1="1345.84" x2="710.7" y2="1345.84" stroke="#EBEBEB" stroke-width="0.9"/><line x1="121.66" y1="1303.1" x2="121.66" y2="1572.8" stroke="#EBEBEB" stroke-width="1.8"/><line x1="262.02" y1="1303.1" x2="262.02" y2="1572.8" stroke="#EBEBEB" stroke-width="1.8"/><line x1="402.38" y1="1303.1" x2="402.38" y2="1572.8" stroke="#EBEBEB" stroke-width="1.8"/><line x1="542.74" y1="1303.1" x2="542.74" y2="1572.8" stroke="#EBEBEB" stroke-width="1.8"/><line x1="683.1" y1="1303.1" x2="683.1" y2="1572.8" stroke="#EBEBEB" stroke-width="1.8"/><line x1="94.6" y1="1561.7" x2="710.7" y2="1561.7" stroke="#EBEBEB" stroke-width="1.8"/><line x1="94.6" y1="1500.02" x2="710.7" y2="1500.02" stroke="#EBEBEB" stroke-width="1.8"/><line x1="94.6" y1="1438.35" x2="710.7" y2="1438.35" stroke="#EBEBEB" stroke-width="1.8"/><line x1="94.6" y1="1376.67" x2="710.7" y2="1376.67" stroke="#EBEBEB" stroke-width="1.8"/><line x1="94.6" y1="1315" x2="710.7" y2="1315" stroke="#EBEBEB" stroke-width="1.8"/><g fill="none" stroke="#009E73" stroke-width="1.3"><rect x="418.2" y="1435.5" width="18.2" height="18.2"/><rect x="451.9" y="1441.7" width="18.2" height="18.2"/><rect x="431.2" y="1471.3" width="18.2" height="18.2"/><rect x="497.6" y="1446.2" width="18.2" height="18.2"/><rect x="503" y="1445.3" width="18.2" height="18.2"/><rect x="516.4" y="1452.5" width="18.2" height="18.2"/><rect x="529.9" y="1454.3" width="18.2" height="18.2"/><rect x="508.3" y="1450.7" width="18.2" height="18.2"/><circle cx="213.2" cy="1447.8" r="8.8"/><circle cx="216.8" cy="1447.1" r="8.8"/><circle cx="226.9" cy="1440.6" r="8.8"/><circle cx="230.6" cy="1457.2" r="8.8"/><circle cx="251.5" cy="1447.1" r="8.8"/><circle cx="253.7" cy="1452.1" r="8.8"/><circle cx="258.1" cy="1453.6" r="8.8"/><path d="M367.4 1430.8L380 1443.4L367.4 1456L354.8 1443.4Z"/><path d="M379 1435.9L391.6 1448.5L379 1461.1L366.4 1448.5Z"/><path d="M444.8 1414.9L457.4 1427.5L444.8 1440.1L432.2 1427.5Z"/><path d="M454.7 1438.2L467.3 1450.8L454.7 1463.4L442.1 1450.8Z"/><path d="M452 1462.4L464.6 1475L452 1487.6L439.4 1475Z"/><path d="M477.1 1475L489.7 1487.6L477.1 1500.2L464.5 1487.6Z"/><path d="M510.3 1428.4L522.9 1441L510.3 1453.6L497.7 1441Z"/><path d="M504 1444.5L516.6 1457.1L504 1469.7L491.4 1457.1Z"/><path d="M246.7 1429.9L265.1 1448.3M246.7 1448.3L265.1 1429.9"/><path d="M256.1 1432.8L274.5 1451.2M256.1 1451.2L274.5 1432.8"/><path d="M273.5 1447.3L291.9 1465.7M273.5 1465.7L291.9 1447.3"/><path d="M244.5 1444.4L262.9 1462.8M244.5 1462.8L262.9 1444.4"/><path d="M331.4 1430.6L349.8 1449M331.4 1449L349.8 1430.6"/></g><polyline points="234.9,1448.5 273.3,1447.1 447.5,1453.5 491.4,1458.9" fill="none" stroke="#000" stroke-width="2.2" stroke-linejoin="round"/><circle cx="234.9" cy="1448.5" r="9.3" fill="#000"/><circle cx="273.3" cy="1447.1" r="9.3" fill="#000"/><circle cx="447.5" cy="1453.5" r="9.3" fill="#000"/><circle cx="491.4" cy="1458.9" r="9.3" fill="#000"/><path d="M597.4 1408.8L603.2 1394.3L606.5 1394.3L611.7 1408.8L608.4 1408.8L604.9 1399.1L600.7 1408.8Z" fill="#000"/><path d="M613.95 1408.8L619.75 1394.3L623.05 1394.3L628.25 1408.8L624.95 1408.8L621.45 1399.1L617.25 1408.8Z" fill="#000"/><rect x="94.6" y="1303.1" width="616.1" height="269.7" fill="none" stroke="#262626" stroke-width="1.2"/><path d="M121.66 1572.8V1579.8M262.02 1572.8V1579.8M402.38 1572.8V1579.8M542.74 1572.8V1579.8M683.1 1572.8V1579.8M94.6 1561.7H87.6M94.6 1500.02H87.6M94.6 1438.35H87.6M94.6 1376.67H87.6M94.6 1315H87.6" stroke="#262626" stroke-width="2.0" fill="none"/><text transform="translate(121.66,1605.2) scale(1,1.04)" font-size="22.8" fill="#4D4D4D" text-anchor="middle">0.0</text><text transform="translate(262.02,1605.2) scale(1,1.04)" font-size="22.8" fill="#4D4D4D" text-anchor="middle">0.1</text><text transform="translate(402.38,1605.2) scale(1,1.04)" font-size="22.8" fill="#4D4D4D" text-anchor="middle">0.2</text><text transform="translate(542.74,1605.2) scale(1,1.04)" font-size="22.8" fill="#4D4D4D" text-anchor="middle">0.3</text><text transform="translate(683.1,1605.2) scale(1,1.04)" font-size="22.8" fill="#4D4D4D" text-anchor="middle">0.4</text><text transform="translate(80.6,1569.9) scale(1,1.04)" font-size="22.8" fill="#4D4D4D" text-anchor="end">-10</text><text transform="translate(80.6,1508.22) scale(1,1.04)" font-size="22.8" fill="#4D4D4D" text-anchor="end">-5</text><text transform="translate(80.6,1446.55) scale(1,1.04)" font-size="22.8" fill="#4D4D4D" text-anchor="end">0</text><text transform="translate(80.6,1384.88) scale(1,1.04)" font-size="22.8" fill="#4D4D4D" text-anchor="end">5</text><text transform="translate(80.6,1323.2) scale(1,1.04)" font-size="22.8" fill="#4D4D4D" text-anchor="end">10</text></g><text transform="translate(97.68,1280.4) scale(1,1.03)" font-size="34.5" fill="#000" text-anchor="start" font-weight="bold">G</text><text transform="translate(152.83,1281.6) scale(1,1.045)" font-size="34.5" fill="#000" text-anchor="start">AGBRESA</text><g><rect x="786.2" y="1303.1" width="658.45" height="269.7" fill="#FFFFFF"/><line x1="890.14" y1="1303.1" x2="890.14" y2="1572.8" stroke="#EBEBEB" stroke-width="0.9"/><line x1="1040.01" y1="1303.1" x2="1040.01" y2="1572.8" stroke="#EBEBEB" stroke-width="0.9"/><line x1="1189.89" y1="1303.1" x2="1189.89" y2="1572.8" stroke="#EBEBEB" stroke-width="0.9"/><line x1="1339.76" y1="1303.1" x2="1339.76" y2="1572.8" stroke="#EBEBEB" stroke-width="0.9"/><line x1="786.2" y1="1530.86" x2="1444.65" y2="1530.86" stroke="#EBEBEB" stroke-width="0.9"/><line x1="786.2" y1="1469.19" x2="1444.65" y2="1469.19" stroke="#EBEBEB" stroke-width="0.9"/><line x1="786.2" y1="1407.51" x2="1444.65" y2="1407.51" stroke="#EBEBEB" stroke-width="0.9"/><line x1="786.2" y1="1345.84" x2="1444.65" y2="1345.84" stroke="#EBEBEB" stroke-width="0.9"/><line x1="815.2" y1="1303.1" x2="815.2" y2="1572.8" stroke="#EBEBEB" stroke-width="1.8"/><line x1="965.08" y1="1303.1" x2="965.08" y2="1572.8" stroke="#EBEBEB" stroke-width="1.8"/><line x1="1114.95" y1="1303.1" x2="1114.95" y2="1572.8" stroke="#EBEBEB" stroke-width="1.8"/><line x1="1264.83" y1="1303.1" x2="1264.83" y2="1572.8" stroke="#EBEBEB" stroke-width="1.8"/><line x1="1414.7" y1="1303.1" x2="1414.7" y2="1572.8" stroke="#EBEBEB" stroke-width="1.8"/><line x1="786.2" y1="1561.7" x2="1444.65" y2="1561.7" stroke="#EBEBEB" stroke-width="1.8"/><line x1="786.2" y1="1500.02" x2="1444.65" y2="1500.02" stroke="#EBEBEB" stroke-width="1.8"/><line x1="786.2" y1="1438.35" x2="1444.65" y2="1438.35" stroke="#EBEBEB" stroke-width="1.8"/><line x1="786.2" y1="1376.67" x2="1444.65" y2="1376.67" stroke="#EBEBEB" stroke-width="1.8"/><line x1="786.2" y1="1315" x2="1444.65" y2="1315" stroke="#EBEBEB" stroke-width="1.8"/><g fill="none" stroke="#BEBEBE" stroke-width="1.3"><rect x="1120.39" y="1427.7" width="18.2" height="18.2"/><rect x="1160.86" y="1429.74" width="18.2" height="18.2"/><rect x="1179.98" y="1420.99" width="18.2" height="18.2"/><rect x="1197.81" y="1432.38" width="18.2" height="18.2"/><rect x="1207.95" y="1443.33" width="18.2" height="18.2"/><rect x="1246.39" y="1430.35" width="18.2" height="18.2"/><rect x="1254.93" y="1447.13" width="18.2" height="18.2"/><rect x="1284.41" y="1420.11" width="18.2" height="18.2"/><rect x="1169" y="1434.06" width="18.2" height="18.2"/><rect x="1206.4" y="1426.65" width="18.2" height="18.2"/><rect x="1217.5" y="1440.33" width="18.2" height="18.2"/><rect x="1253.2" y="1440.33" width="18.2" height="18.2"/><rect x="1250.9" y="1450.75" width="18.2" height="18.2"/><rect x="1282.8" y="1435.92" width="18.2" height="18.2"/><rect x="1307.3" y="1445.28" width="18.2" height="18.2"/><rect x="1186.17" y="1389.43" width="18.2" height="18.2"/><rect x="1183.93" y="1409.14" width="18.2" height="18.2"/><rect x="1148.58" y="1436.19" width="18.2" height="18.2"/><rect x="1193.86" y="1435.66" width="18.2" height="18.2"/><rect x="1209.34" y="1438.4" width="18.2" height="18.2"/><rect x="1209.34" y="1452.19" width="18.2" height="18.2"/><rect x="1250.24" y="1434.77" width="18.2" height="18.2"/><rect x="1266.79" y="1452.19" width="18.2" height="18.2"/><rect x="1276.72" y="1450.33" width="18.2" height="18.2"/><rect x="1285.58" y="1442.11" width="18.2" height="18.2"/><rect x="1269.03" y="1463.15" width="18.2" height="18.2"/><rect x="1301.06" y="1450.33" width="18.2" height="18.2"/><rect x="1330.85" y="1464.03" width="18.2" height="18.2"/><rect x="1153" y="1435.39" width="18.2" height="18.2"/><rect x="1155.9" y="1443.88" width="18.2" height="18.2"/><rect x="1202.6" y="1440.52" width="18.2" height="18.2"/><rect x="1214.7" y="1449.36" width="18.2" height="18.2"/><rect x="1225.4" y="1449.36" width="18.2" height="18.2"/><rect x="1268.2" y="1447.68" width="18.2" height="18.2"/><rect x="1255.7" y="1472.87" width="18.2" height="18.2"/><rect x="1294.9" y="1475.17" width="18.2" height="18.2"/><rect x="1319" y="1467.48" width="18.2" height="18.2"/><rect x="890.5" y="1480.34" width="18.2" height="18.2"/><rect x="934.7" y="1501.6" width="18.2" height="18.2"/><rect x="947.95" y="1458.46" width="18.2" height="18.2"/><rect x="951.9" y="1443.19" width="18.2" height="18.2"/><rect x="964.82" y="1472.4" width="18.2" height="18.2"/><rect x="1025.68" y="1490.04" width="18.2" height="18.2"/><rect x="1050.03" y="1465.16" width="18.2" height="18.2"/><rect x="965.56" y="1457.22" width="18.2" height="18.2"/><rect x="955.95" y="1438.96" width="18.2" height="18.2"/><rect x="1149.22" y="1520.13" width="18.2" height="18.2"/><rect x="1161.9" y="1441.43" width="18.2" height="18.2"/><rect x="1212.7" y="1450.16" width="18.2" height="18.2"/><rect x="1213.4" y="1457.48" width="18.2" height="18.2"/><rect x="1224.1" y="1461.54" width="18.2" height="18.2"/><rect x="1222.6" y="1441.43" width="18.2" height="18.2"/><rect x="1255.2" y="1436.75" width="18.2" height="18.2"/><rect x="1258.2" y="1440.1" width="18.2" height="18.2"/><rect x="1243.8" y="1458.9" width="18.2" height="18.2"/><rect x="1277.2" y="1477.6" width="18.2" height="18.2"/><rect x="1270.3" y="1490.31" width="18.2" height="18.2"/><rect x="1306.8" y="1496.31" width="18.2" height="18.2"/><rect x="1132.46" y="1435.5" width="18.2" height="18.2"/><rect x="1168.44" y="1441.7" width="18.2" height="18.2"/><rect x="1146.34" y="1471.3" width="18.2" height="18.2"/><rect x="1217.24" y="1446.2" width="18.2" height="18.2"/><rect x="1223.01" y="1445.3" width="18.2" height="18.2"/><rect x="1237.32" y="1452.5" width="18.2" height="18.2"/><rect x="1251.73" y="1454.3" width="18.2" height="18.2"/><rect x="1228.67" y="1450.7" width="18.2" height="18.2"/><circle cx="879.74" cy="1440.25" r="8.8"/><circle cx="897.46" cy="1438.75" r="8.8"/><circle cx="920.42" cy="1429.48" r="8.8"/><circle cx="923.94" cy="1450.4" r="8.8"/><circle cx="932.17" cy="1440.69" r="8.8"/><circle cx="934.51" cy="1444.57" r="8.8"/><circle cx="926.61" cy="1443.25" r="8.8"/><circle cx="917.3" cy="1443.78" r="8.8"/><circle cx="926.7" cy="1438.84" r="8.8"/><circle cx="943.4" cy="1435.57" r="8.8"/><circle cx="954" cy="1435.57" r="8.8"/><circle cx="957.1" cy="1443.25" r="8.8"/><circle cx="943.4" cy="1444.31" r="8.8"/><circle cx="960.8" cy="1449.25" r="8.8"/><circle cx="921.59" cy="1346.91" r="8.8"/><circle cx="908.67" cy="1438.48" r="8.8"/><circle cx="911.98" cy="1436.8" r="8.8"/><circle cx="927.15" cy="1446.7" r="8.8"/><circle cx="914.65" cy="1462.61" r="8.8"/><circle cx="943.06" cy="1464.29" r="8.8"/><circle cx="949.78" cy="1424.25" r="8.8"/><circle cx="951.71" cy="1437.95" r="8.8"/><circle cx="969.65" cy="1434.68" r="8.8"/><circle cx="972.96" cy="1441.22" r="8.8"/><circle cx="1000.08" cy="1449.97" r="8.8"/><circle cx="947.4" cy="1428.23" r="8.8"/><circle cx="950.5" cy="1436.01" r="8.8"/><circle cx="934.8" cy="1440.43" r="8.8"/><circle cx="935.9" cy="1450.68" r="8.8"/><circle cx="947.4" cy="1439.01" r="8.8"/><circle cx="963.8" cy="1466.33" r="8.8"/><circle cx="975.6" cy="1454.13" r="8.8"/><circle cx="992.1" cy="1447.76" r="8.8"/><circle cx="971.78" cy="1416.82" r="8.8"/><circle cx="923.84" cy="1443.82" r="8.8"/><circle cx="927.57" cy="1451.67" r="8.8"/><circle cx="942.31" cy="1453.53" r="8.8"/><circle cx="956.3" cy="1439.5" r="8.8"/><circle cx="961.42" cy="1453.53" r="8.8"/><circle cx="992.39" cy="1466.94" r="8.8"/><circle cx="1002" cy="1451.06" r="8.8"/><circle cx="1007.12" cy="1455.38" r="8.8"/><circle cx="993.88" cy="1448.67" r="8.8"/><circle cx="925" cy="1442.85" r="8.8"/><circle cx="924.3" cy="1458.91" r="8.8"/><circle cx="945.5" cy="1434.82" r="8.8"/><circle cx="944" cy="1436.85" r="8.8"/><circle cx="950.1" cy="1436.23" r="8.8"/><circle cx="966.8" cy="1455.64" r="8.8"/><circle cx="969" cy="1476.38" r="8.8"/><circle cx="963.7" cy="1450.26" r="8.8"/><circle cx="912.95" cy="1447.8" r="8.8"/><circle cx="916.79" cy="1447.1" r="8.8"/><circle cx="927.57" cy="1440.6" r="8.8"/><circle cx="931.53" cy="1457.2" r="8.8"/><circle cx="953.84" cy="1447.1" r="8.8"/><circle cx="956.19" cy="1452.1" r="8.8"/><circle cx="960.89" cy="1453.6" r="8.8"/><path d="M1184.7 1334.31L1197.3 1346.91L1184.7 1359.51L1172.1 1346.91Z"/><path d="M1116.79 1368.16L1129.39 1380.76L1116.79 1393.36L1104.19 1380.76Z"/><path d="M1081.02 1437.64L1093.62 1450.24L1081.02 1462.84L1068.42 1450.24Z"/><path d="M1106.22 1447.72L1118.82 1460.32L1106.22 1472.92L1093.62 1460.32Z"/><path d="M1126.08 1489.79L1138.68 1502.39L1126.08 1514.99L1113.48 1502.39Z"/><path d="M1201.89 1395.56L1214.49 1408.16L1201.89 1420.76L1189.29 1408.16Z"/><path d="M1194.2 1405.64L1206.8 1418.24L1194.2 1430.84L1181.6 1418.24Z"/><path d="M1202.96 1411.12L1215.56 1423.72L1202.96 1436.32L1190.36 1423.72Z"/><path d="M1214.06 1418.46L1226.66 1431.06L1214.06 1443.66L1201.46 1431.06Z"/><path d="M1235.74 1408.38L1248.34 1420.98L1235.74 1433.58L1223.14 1420.98Z"/><path d="M1260.4 1405.29L1273 1417.89L1260.4 1430.49L1247.8 1417.89Z"/><path d="M1165.48 1417.57L1178.08 1430.17L1165.48 1442.77L1152.88 1430.17Z"/><path d="M1180.85 1427.56L1193.45 1440.16L1180.85 1452.76L1168.25 1440.16Z"/><path d="M1218.44 1433.13L1231.04 1445.73L1218.44 1458.33L1205.84 1445.73Z"/><path d="M1098.3 1430.66L1110.9 1443.26L1098.3 1455.86L1085.7 1443.26Z"/><path d="M1141.4 1441.79L1154 1454.39L1141.4 1466.99L1128.8 1454.39Z"/><path d="M1169.8 1454.87L1182.4 1467.47L1169.8 1480.07L1157.2 1467.47Z"/><path d="M1150.5 1471.93L1163.1 1484.53L1150.5 1497.13L1137.9 1484.53Z"/><path d="M1182.3 1486.52L1194.9 1499.12L1182.3 1511.72L1169.7 1499.12Z"/><path d="M1186.2 1476.27L1198.8 1488.87L1186.2 1501.47L1173.6 1488.87Z"/><path d="M1203.6 1442.06L1216.2 1454.66L1203.6 1467.26L1191 1454.66Z"/><path d="M1226.7 1469.37L1239.3 1481.97L1226.7 1494.57L1214.1 1481.97Z"/><path d="M1217.5 1483.96L1230.1 1496.56L1217.5 1509.16L1204.9 1496.56Z"/><path d="M1215.2 1540.26L1227.8 1552.86L1215.2 1565.46L1202.6 1552.86Z"/><path d="M1101 1449.04L1113.6 1461.64L1101 1474.24L1088.4 1461.64Z"/><path d="M1182.3 1423.19L1194.9 1435.79L1182.3 1448.39L1169.7 1435.79Z"/><path d="M1171 1445.34L1183.6 1457.94L1171 1470.54L1158.4 1457.94Z"/><path d="M1183.9 1447.28L1196.5 1459.88L1183.9 1472.48L1171.3 1459.88Z"/><path d="M1208.9 1441.28L1221.5 1453.88L1208.9 1466.48L1196.3 1453.88Z"/><path d="M1230.9 1432.63L1243.5 1445.23L1230.9 1457.83L1218.3 1445.23Z"/><path d="M1246.8 1446.66L1259.4 1459.26L1246.8 1471.86L1234.2 1459.26Z"/><path d="M1223.3 1478.07L1235.9 1490.67L1223.3 1503.27L1210.7 1490.67Z"/><path d="M1161.9 1487.51L1174.5 1500.11L1161.9 1512.71L1149.3 1500.11Z"/><path d="M1274.1 1466.07L1286.7 1478.67L1274.1 1491.27L1261.5 1478.67Z"/><path d="M1216.5 1443.31L1229.1 1455.91L1216.5 1468.51L1203.9 1455.91Z"/><path d="M1077.6 1430.8L1090.2 1443.4L1077.6 1456L1065 1443.4Z"/><path d="M1089.99 1435.9L1102.59 1448.5L1089.99 1461.1L1077.39 1448.5Z"/><path d="M1160.25 1414.9L1172.85 1427.5L1160.25 1440.1L1147.65 1427.5Z"/><path d="M1170.82 1438.2L1183.42 1450.8L1170.82 1463.4L1158.22 1450.8Z"/><path d="M1167.93 1462.4L1180.53 1475L1167.93 1487.6L1155.33 1475Z"/><path d="M1194.74 1475L1207.34 1487.6L1194.74 1500.2L1182.14 1487.6Z"/><path d="M1230.19 1428.4L1242.79 1441L1230.19 1453.6L1217.59 1441Z"/><path d="M1223.46 1444.5L1236.06 1457.1L1223.46 1469.7L1210.86 1457.1Z"/><path d="M948.59 1428.58L966.99 1446.98M948.59 1446.98L966.99 1428.58"/><path d="M951.58 1431.4L969.98 1449.8M951.58 1449.8L969.98 1431.4"/><path d="M974.86 1429.99L993.26 1448.39M974.86 1448.39L993.26 1429.99"/><path d="M987.78 1430.52L1006.18 1448.92M987.78 1448.92L1006.18 1430.52"/><path d="M997.82 1425.66L1016.22 1444.06M997.82 1444.06L1016.22 1425.66"/><path d="M926.49 1425.66L944.89 1444.06M926.49 1444.06L944.89 1425.66"/><path d="M970.2 1424.69L988.6 1443.09M970.2 1443.09L988.6 1424.69"/><path d="M987 1424.69L1005.4 1443.09M987 1443.09L1005.4 1424.69"/><path d="M1011.2 1441.73L1029.6 1460.13M1011.2 1460.13L1029.6 1441.73"/><path d="M1012.4 1434.05L1030.8 1452.45M1012.4 1452.45L1030.8 1434.05"/><path d="M1032.3 1432.9L1050.7 1451.3M1032.3 1451.3L1050.7 1432.9"/><path d="M959.7 1410.63L978.1 1429.03M959.7 1429.03L978.1 1410.63"/><path d="M1002.84 1399.14L1021.24 1417.54M1002.84 1417.54L1021.24 1399.14"/><path d="M1009.46 1423.27L1027.86 1441.67M1009.46 1441.67L1027.86 1423.27"/><path d="M1017.36 1434.76L1035.76 1453.16M1017.36 1453.16L1035.76 1434.76"/><path d="M947.85 1440.77L966.25 1459.17M947.85 1459.17L966.25 1440.77"/><path d="M963.76 1440.77L982.16 1459.17M963.76 1459.17L982.16 1440.77"/><path d="M996.22 1437.5L1014.62 1455.9M996.22 1455.9L1014.62 1437.5"/><path d="M1000.81 1430.96L1019.21 1449.36M1000.81 1449.36L1019.21 1430.96"/><path d="M953.08 1428.75L971.48 1447.15M953.08 1447.15L971.48 1428.75"/><path d="M983.19 1433.39L1001.59 1451.79M983.19 1451.79L1001.59 1433.39"/><path d="M980.2 1438.24L998.6 1456.64M980.2 1456.64L998.6 1438.24"/><path d="M1022.91 1424.83L1041.31 1443.23M1022.91 1443.23L1041.31 1424.83"/><path d="M1039.14 1437L1057.54 1455.4M1039.14 1455.4L1057.54 1437"/><path d="M1058.25 1426.68L1076.65 1445.08M1058.25 1445.08L1076.65 1426.68"/><path d="M1014.15 1437L1032.55 1455.4M1014.15 1455.4L1032.55 1437"/><path d="M959.1 1434.36L977.5 1452.76M959.1 1452.76L977.5 1434.36"/><path d="M966.7 1432.33L985.1 1450.73M966.7 1450.73L985.1 1432.33"/><path d="M984.1 1431.71L1002.5 1450.11M984.1 1450.11L1002.5 1431.71"/><path d="M1000 1432.33L1018.4 1450.73M1000 1450.73L1018.4 1432.33"/><path d="M1018.2 1433.03L1036.6 1451.43M1018.2 1451.43L1036.6 1433.03"/><path d="M984.1 1449.09L1002.5 1467.49M984.1 1467.49L1002.5 1449.09"/><path d="M1029.6 1449.09L1048 1467.49M1029.6 1467.49L1048 1449.09"/><path d="M962.1 1443.71L980.5 1462.11M962.1 1462.11L980.5 1443.71"/><path d="M949.34 1429.9L967.74 1448.3M949.34 1448.3L967.74 1429.9"/><path d="M959.38 1432.8L977.78 1451.2M959.38 1451.2L977.78 1432.8"/><path d="M977.96 1447.3L996.36 1465.7M977.96 1465.7L996.36 1447.3"/><path d="M946.99 1444.4L965.39 1462.8M946.99 1462.8L965.39 1444.4"/><path d="M1039.78 1430.6L1058.18 1449M1039.78 1449L1058.18 1430.6"/></g><polyline points="944,1443.7 993.5,1442 1180,1454.5 1200.8,1459.2" fill="none" stroke="#000" stroke-width="2.2" stroke-linejoin="round"/><circle cx="944" cy="1443.7" r="9.3" fill="#000"/><circle cx="993.5" cy="1442" r="9.3" fill="#000"/><circle cx="1180" cy="1454.5" r="9.3" fill="#000"/><circle cx="1200.8" cy="1459.2" r="9.3" fill="#000"/><path d="M1329.9 1404.28H1349.5M1329.9 1413.14H1349.5M1338.1 1395.1L1332.7 1421.4M1346.5 1395.1L1341.1 1421.4" stroke="#000" stroke-width="2.7" fill="none"/><rect x="786.2" y="1303.1" width="658.45" height="269.7" fill="none" stroke="#262626" stroke-width="1.2"/><path d="M815.2 1572.8V1579.8M965.08 1572.8V1579.8M1114.95 1572.8V1579.8M1264.83 1572.8V1579.8M1414.7 1572.8V1579.8M786.2 1561.7H779.2M786.2 1500.02H779.2M786.2 1438.35H779.2M786.2 1376.67H779.2M786.2 1315H779.2" stroke="#262626" stroke-width="2.0" fill="none"/><text transform="translate(815.2,1605.2) scale(1,1.04)" font-size="22.8" fill="#4D4D4D" text-anchor="middle">0.0</text><text transform="translate(965.08,1605.2) scale(1,1.04)" font-size="22.8" fill="#4D4D4D" text-anchor="middle">0.1</text><text transform="translate(1114.95,1605.2) scale(1,1.04)" font-size="22.8" fill="#4D4D4D" text-anchor="middle">0.2</text><text transform="translate(1264.83,1605.2) scale(1,1.04)" font-size="22.8" fill="#4D4D4D" text-anchor="middle">0.3</text><text transform="translate(1414.7,1605.2) scale(1,1.04)" font-size="22.8" fill="#4D4D4D" text-anchor="middle">0.4</text><text transform="translate(772.2,1569.9) scale(1,1.04)" font-size="22.8" fill="#4D4D4D" text-anchor="end">-10</text><text transform="translate(772.2,1508.22) scale(1,1.04)" font-size="22.8" fill="#4D4D4D" text-anchor="end">-5</text><text transform="translate(772.2,1446.55) scale(1,1.04)" font-size="22.8" fill="#4D4D4D" text-anchor="end">0</text><text transform="translate(772.2,1384.88) scale(1,1.04)" font-size="22.8" fill="#4D4D4D" text-anchor="end">5</text><text transform="translate(772.2,1323.2) scale(1,1.04)" font-size="22.8" fill="#4D4D4D" text-anchor="end">10</text></g><text transform="translate(795.09,1280.4) scale(1,1.03)" font-size="34.5" fill="#000" text-anchor="start" font-weight="bold">H</text><text transform="translate(842.83,1281.6) scale(1,1.045)" font-size="34.5" fill="#000" text-anchor="start">All Studies</text><text transform="translate(28.4,205.45) rotate(-90) scale(1,1.04)" font-size="31" text-anchor="middle" fill="#000">pc<tspan font-size="21.7" dy="5.8">i</tspan><tspan dy="-5.8"> [%]</tspan></text><text transform="translate(28.4,622.05) rotate(-90) scale(1,1.04)" font-size="31" text-anchor="middle" fill="#000">pc<tspan font-size="21.7" dy="5.8">i</tspan><tspan dy="-5.8"> [%]</tspan></text><text transform="translate(28.4,1039) rotate(-90) scale(1,1.04)" font-size="31" text-anchor="middle" fill="#000">pc<tspan font-size="21.7" dy="5.8">i</tspan><tspan dy="-5.8"> [%]</tspan></text><text transform="translate(28.4,1438.35) rotate(-90) scale(1,1.04)" font-size="31" text-anchor="middle" fill="#000">pc<tspan font-size="21.7" dy="5.8">i</tspan><tspan dy="-5.8"> [%]</tspan></text><text transform="translate(402.65,1638.8) scale(1,1.04)" font-size="31.3" fill="#000" text-anchor="middle">ENDO-to-BMC-ratio</text><text transform="translate(1115.43,1638.8) scale(1,1.04)" font-size="31.3" fill="#000" text-anchor="middle">ENDO-to-BMC-ratio</text><rect x="96.5" y="1705.3" width="527.5" height="72.8" fill="none" stroke="#000" stroke-width="2.6"/><rect x="652.3" y="1705.3" width="701.7" height="72.8" fill="none" stroke="#000" stroke-width="2.6"/><circle cx="147.5" cy="1742.4" r="6.6" fill="#D55E00"/><text transform="translate(183.15,1751) scale(1,1.04)" font-size="22.8" fill="#000" text-anchor="start">21 DAYS</text><circle cx="313.3" cy="1742.4" r="6.6" fill="#000"/><text transform="translate(349.43,1751) scale(1,1.04)" font-size="22.8" fill="#000" text-anchor="start">35 DAYS</text><circle cx="480" cy="1742.4" r="6.6" fill="#009E73"/><text transform="translate(515.64,1751) scale(1,1.04)" font-size="22.8" fill="#000" text-anchor="start">60 DAYS</text><rect x="696.7" y="1736.1000000000001" width="12.6" height="12.6" fill="none" stroke="#000" stroke-width="1.4"/><circle cx="871.7" cy="1742.7" r="6.0" fill="none" stroke="#000" stroke-width="1.4"/><path d="M1033.3 1735.9L1046.3 1748.9M1033.3 1748.9L1046.3 1735.9" fill="none" stroke="#000" stroke-width="1.4"/><path d="M1208.3 1733.8000000000002L1216.8999999999999 1742.4L1208.3 1751.0L1199.7 1742.4Z" fill="none" stroke="#000" stroke-width="1.4"/><text transform="translate(739.39,1751) scale(1,1.04)" font-size="22.8" fill="#000" text-anchor="start">TIBIA_04</text><text transform="translate(908.69,1751) scale(1,1.04)" font-size="22.8" fill="#000" text-anchor="start">TIBIA_38</text><text transform="translate(1076.29,1751) scale(1,1.04)" font-size="22.8" fill="#000" text-anchor="start">TIBIA_66</text><text transform="translate(1245.39,1751) scale(1,1.04)" font-size="22.8" fill="#000" text-anchor="start">TIBIA_98</text>
</svg></body></html>
